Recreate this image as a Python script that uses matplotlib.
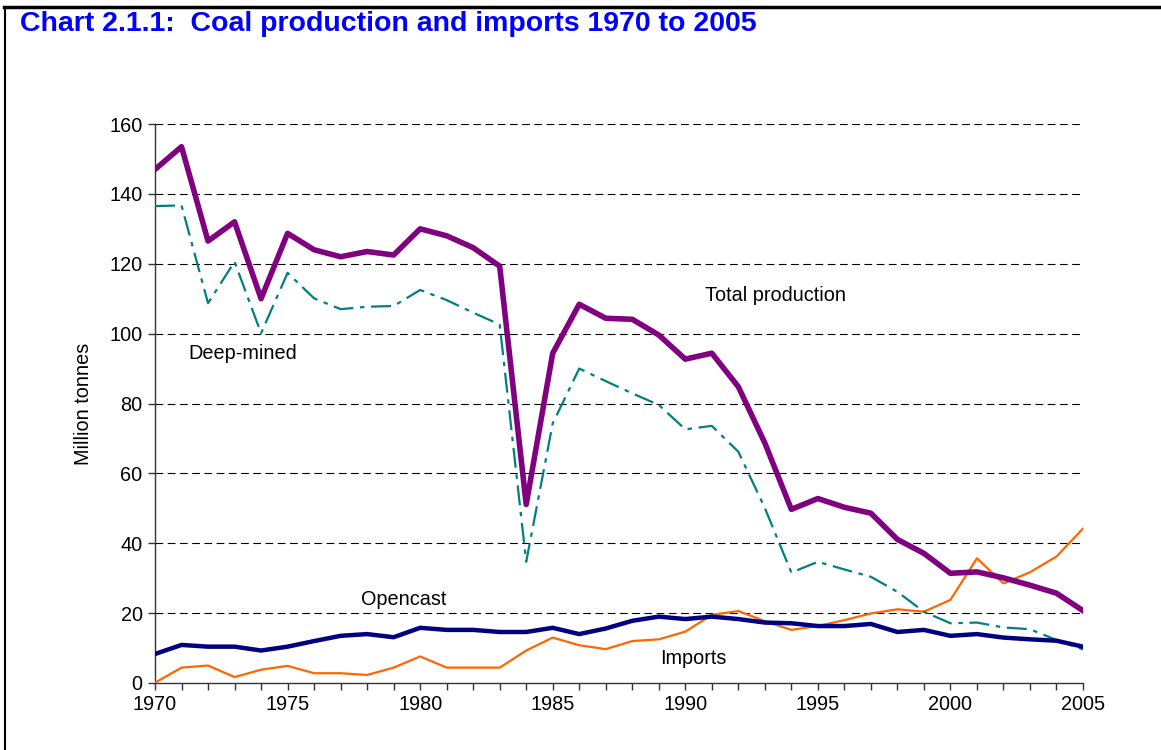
import matplotlib
matplotlib.use('Agg')
import matplotlib.pyplot as plt
from matplotlib.lines import Line2D

years = list(range(1970, 2006))

total_production = [147.0, 153.5, 126.5, 132.0, 110.0, 128.7, 124.0, 122.0, 123.5, 122.5,
                    130.0, 128.0, 124.6, 119.3, 51.1, 94.4, 108.4, 104.4, 104.1, 99.6,
                    92.7, 94.4, 84.8, 68.7, 49.7, 52.8, 50.3, 48.6, 41.1, 37.1,
                    31.4, 31.8, 30.1, 28.0, 25.7, 20.7]
deep_mined = [136.5, 136.7, 108.7, 120.6, 100.1, 117.4, 110.1, 107.0, 107.7, 107.9,
              112.5, 109.6, 106.0, 102.6, 34.7, 74.3, 90.0, 86.4, 82.9, 79.6,
              72.6, 73.6, 66.2, 50.1, 31.6, 34.7, 32.5, 30.4, 26.1, 20.4,
              17.1, 17.3, 15.9, 15.4, 12.3, 9.6]
opencast = [8.3, 10.9, 10.4, 10.4, 9.3, 10.4, 12.0, 13.5, 14.0, 13.1,
            15.8, 15.2, 15.2, 14.6, 14.6, 15.8, 14.0, 15.6, 17.8, 19.0,
            18.3, 19.0, 18.3, 17.3, 17.1, 16.3, 16.3, 16.9, 14.6, 15.2,
            13.5, 14.0, 13.0, 12.5, 12.1, 10.4]
imports = [0.1, 4.4, 5.0, 1.7, 3.8, 4.9, 2.8, 2.8, 2.3, 4.4,
           7.6, 4.4, 4.4, 4.4, 9.3, 13.0, 10.8, 9.7, 12.0, 12.5,
           14.7, 19.5, 20.6, 17.7, 15.2, 16.3, 18.0, 19.9, 21.1, 20.4,
           23.8, 35.7, 28.5, 31.7, 36.2, 44.2]

xticks = [1970, 1975, 1980, 1985, 1990, 1995, 2000, 2005]
yticks = [0, 20, 40, 60, 80, 100, 120, 140, 160]

plt.rcParams['font.family'] = ['Liberation Sans', 'DejaVu Sans']
plt.rcParams['font.size'] = 14.3

fig = plt.figure(figsize=(11.61, 7.5), dpi=100)
ax = fig.add_axes([155/1161, 1 - 683/750, (1083 - 155)/1161, (683 - 124)/750])

# grid
for v in yticks[1:]:
    ax.axhline(v, color='black', lw=0.8, ls=(0, (7, 4)), zorder=1)

ax.plot(years, imports, color='#FF6600', lw=1.6, zorder=3)
ax.plot(years, opencast, color='#000080', lw=3.2, zorder=4)
ax.plot(years, deep_mined, color='#008080', lw=1.6, ls=(0, (9, 3, 2, 3)), zorder=3)
ax.plot(years, total_production, color='#800080', lw=4.0, zorder=5)

ax.set_xlim(1970, 2005)
ax.set_ylim(0, 160)
ax.set_xticks(xticks)
ax.set_xticks(years, minor=True)
ax.set_yticks(yticks)
ax.tick_params(axis='both', direction='out', length=5, width=1, color='#333333', pad=4)
ax.tick_params(axis='x', which='minor', direction='out', length=5, width=1, color='#333333')
for s in ['top', 'right']:
    ax.spines[s].set_visible(False)
for s in ['left', 'bottom']:
    ax.spines[s].set_color('#333333')
    ax.spines[s].set_linewidth(1)

ax.set_ylabel('Million tonnes', labelpad=12)

ax.text(1990.75, 111, 'Total production', ha='left', va='center')
ax.text(1971.25, 94.4, 'Deep-mined', ha='left', va='center')
ax.text(1977.77, 24.0, 'Opencast', ha='left', va='center')
ax.text(1989.05, 6.9, 'Imports', ha='left', va='center')

fig.text(20/1161, 1 - 31/750, 'Chart 2.1.1:  Coal production and imports 1970 to 2005',
         color='#0000FF', fontsize=20.5, fontweight='bold', ha='left', va='baseline')

# frame around the chart
fig.add_artist(Line2D([4/1161, 1], [1 - 7/750, 1 - 7/750], color='black', lw=2.5))
fig.add_artist(Line2D([5/1161, 5/1161], [0, 1 - 7/750], color='black', lw=1.5))

fig.savefig('out.png', dpi=100)
